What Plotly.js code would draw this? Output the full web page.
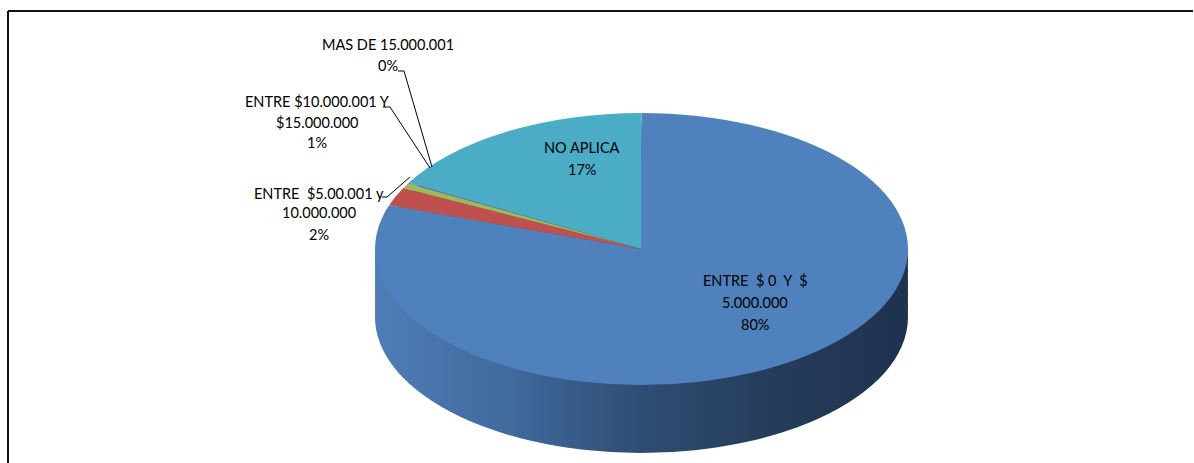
<!DOCTYPE html>
<html><head><meta charset="utf-8">
<script src="https://cdn.plot.ly/plotly-3.0.1.min.js"></script>
<style>html,body{margin:0;padding:0;background:#fff;} #chart{width:1194px;height:463px;}</style>
</head><body><div id="chart"></div>
<script>
// ---- data ----
const categories = ["ENTRE $ 0 Y $ 5.000.000", "ENTRE $5.00.001 y 10.000.000", "ENTRE $10.000.001 Y $15.000.000", "MAS DE 15.000.001", "NO APLICA"];
const values = [80.2, 2.2, 0.6, 0.1, 16.9];
const labelLines = [
  ["ENTRE\u00a0\u00a0$\u00a00\u00a0\u00a0Y\u00a0\u00a0$", "5.000.000"],
  ["ENTRE\u00a0\u00a0$5.00.001 y", "10.000.000"],
  ["ENTRE $10.000.001 Y", "$15.000.000"],
  ["MAS DE 15.000.001"],
  ["NO APLICA"]
];
const topColors = ['#4f81bd', '#c0504d', '#9bbb59', '#8064a2', '#4bacc6'];

// ---- layout geometry (pixels) ----
const W = 1194, H = 463;
const CX = 641.5, CY = 249, A = 266.5, B = 136, DEPTH = 68, NSIDE = 6;
const labelPos = [
  {x: 755, ys: [280, 302, 324]},
  {x: 319, ys: [193, 213, 234]},
  {x: 317, ys: [102, 122, 143]},
  {x: 388, ys: [44, 65]},
  {x: 582, ys: [147, 170]}
];
const leaders = [
  [[398, 71], [404, 71], [432, 167]],
  [[383, 107], [390, 107], [430, 168]],
  [[382, 197], [387, 197], [410, 177]]
];
const px = x => x / W, py = y => 1 - y / H;

const total = values.reduce((a, b) => a + b, 0);
const pctText = values.map(v => Math.round(v / total * 100) + '%');

const R0 = 200;
const domain = {x: [(CX - R0) / W, (CX + R0) / W], y: [0, 1]};
const traces = [];
for (let k = NSIDE; k >= 1; k--) {
  traces.push({type: 'pie', values: values, labels: categories, sort: false, direction: 'clockwise',
    rotation: 0, marker: {colors: ['#2e4b70', '#7a2f2d', '#5e7536', '#4c3c62', '#2d6a7a'], line: {width: 0}},
    textinfo: 'none', hoverinfo: 'none', domain: domain, showlegend: false});
}
traces.push({type: 'pie', values: values, labels: categories, sort: false, direction: 'clockwise',
  rotation: 0, marker: {colors: topColors, line: {width: 0}},
  textinfo: 'none', hoverinfo: 'none', domain: domain, showlegend: false});

const font = {family: 'Lato, "Open Sans", sans-serif', size: 14.5, color: '#000'};
const annotations = [];
labelPos.forEach((p, i) => {
  const lines = labelLines[i].concat([pctText[i]]);
  lines.forEach((t, j) => {
    annotations.push({x: px(p.x), y: py(p.ys[j]), xref: 'paper', yref: 'paper', text: t,
      showarrow: false, xanchor: 'center', yanchor: 'middle', font: font});
  });
});
const shapes = [
  {type: 'line', xref: 'paper', yref: 'paper', x0: px(8), x1: px(1193), y0: py(11), y1: py(11), line: {color: '#111', width: 2}},
  {type: 'line', xref: 'paper', yref: 'paper', x0: px(8), x1: px(8), y0: py(11), y1: py(470), line: {color: '#111', width: 2}}
];
leaders.forEach(pts => {
  for (let i = 0; i < pts.length - 1; i++) {
    shapes.push({type: 'line', xref: 'paper', yref: 'paper', x0: px(pts[i][0]), y0: py(pts[i][1]),
      x1: px(pts[i + 1][0]), y1: py(pts[i + 1][1]), line: {color: '#000', width: 1}});
  }
});

const layout = {width: W, height: H, margin: {l: 0, r: 0, t: 0, b: 0}, paper_bgcolor: '#fff',
  showlegend: false, annotations: annotations, shapes: shapes, hovermode: false};

Plotly.newPlot('chart', traces, layout, {staticPlot: true}).then(gd => {
  const svg = gd.querySelector('svg.main-svg');
  const NS = 'http://www.w3.org/2000/svg';
  let defs = svg.querySelector('defs');
  if (!defs) { defs = document.createElementNS(NS, 'defs'); svg.insertBefore(defs, svg.firstChild); }
  const cd = gd.calcdata[0][0];
  const cx = cd.cx, cy = cd.cy, r = cd.r;
  const grad = document.createElementNS(NS, 'linearGradient');
  grad.setAttribute('id', 'sideGrad');
  grad.setAttribute('gradientUnits', 'userSpaceOnUse');
  grad.setAttribute('x1', cx - r); grad.setAttribute('x2', cx + r);
  grad.setAttribute('y1', cy); grad.setAttribute('y2', cy);
  [[0, '#4e7db7'], [0.25, '#416a9e'], [0.5, '#2f4d73'], [0.75, '#253c5b'], [1, '#1f3250']].forEach(s => {
    const st = document.createElementNS(NS, 'stop');
    st.setAttribute('offset', s[0]); st.setAttribute('stop-color', s[1]);
    grad.appendChild(st);
  });
  defs.appendChild(grad);
  const groups = gd.querySelectorAll('.pielayer .trace');
  const sx = A / r, sy = B / r;
  groups.forEach((g, i) => {
    const isSide = i < NSIDE;
    const off = isSide ? DEPTH * (NSIDE - i) / NSIDE : 0;
    g.setAttribute('transform', `matrix(${sx},0,0,${sy},${CX - sx * cx},${CY + off - sy * cy})`);
    if (isSide) g.querySelectorAll('path.surface').forEach(p => { p.style.fill = 'url(#sideGrad)'; });
  });
});
</script>
</body></html>
